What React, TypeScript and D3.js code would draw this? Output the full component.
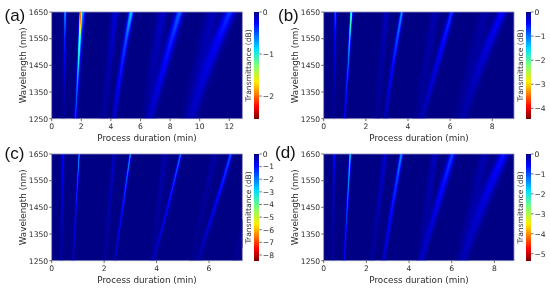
import React, { useMemo } from "react";
import * as d3 from "d3";

const W = 550, H = 289;
const wavelengthNodes = [1250, 1350, 1450, 1550, 1650];
const yTicks = [1250, 1350, 1450, 1550, 1650];

// ridge centres (min) at each wavelength node
const centresA = [
  [0.8, 0.83, 0.85, 0.87, 0.89], [1.58, 1.68, 1.78, 1.87, 1.96], [1.65, 1.75, 1.86, 1.99, 2.13],
  [3.5, 3.7, 3.9, 4.1, 4.28], [4.2, 4.45, 4.73, 5.03, 5.37], [6.4, 6.65, 6.9, 7.2, 7.5],
  [6.65, 7.12, 7.62, 8.12, 8.65], [9.2, 9.6, 10.05, 10.45, 10.9], [9.45, 10.0, 10.6, 11.3, 12.05],
];
const depthsA = [
  [0.04, 0.1, 0.22, 0.38, 0.75], [0.35, 0.45, 0.75, 1.25, 2.1], [0.05, 0.1, 0.15, 0.3, 0.55],
  [0.05, 0.07, 0.1, 0.15, 0.2], [0.15, 0.25, 0.35, 0.5, 0.85], [0.04, 0.06, 0.09, 0.12, 0.15],
  [0.12, 0.2, 0.28, 0.38, 0.55], [0.04, 0.06, 0.08, 0.1, 0.12], [0.1, 0.14, 0.2, 0.28, 0.42],
];
const widthsA = [
  [0.08, 0.08, 0.08, 0.08, 0.08], [0.08, 0.08, 0.08, 0.08, 0.08], [0.12, 0.12, 0.12, 0.12, 0.12],
  [0.22, 0.22, 0.22, 0.22, 0.22], [0.15, 0.16, 0.16, 0.16, 0.16], [0.32, 0.32, 0.32, 0.32, 0.32],
  [0.24, 0.26, 0.27, 0.27, 0.24], [0.42, 0.42, 0.42, 0.42, 0.42], [0.33, 0.36, 0.38, 0.38, 0.34],
];

const centresB = [
  [0.47, 0.49, 0.51, 0.52, 0.54], [0.98, 1.06, 1.15, 1.22, 1.3], [2.51, 2.62, 2.73, 2.85, 2.96],
  [2.91, 3.08, 3.27, 3.48, 3.7], [4.42, 4.63, 4.85, 5.07, 5.28], [4.65, 5.0, 5.36, 5.72, 6.07],
  [6.37, 6.68, 7.0, 7.32, 7.65], [6.62, 7.0, 7.43, 7.93, 8.47],
];
const depthsB = [
  [0.05, 0.12, 0.25, 0.45, 0.9], [0.4, 0.6, 0.9, 1.4, 2.3], [0.06, 0.09, 0.12, 0.17, 0.24],
  [0.22, 0.35, 0.55, 0.85, 1.2], [0.05, 0.08, 0.11, 0.14, 0.18], [0.17, 0.28, 0.4, 0.55, 0.75],
  [0.04, 0.06, 0.09, 0.11, 0.14], [0.12, 0.18, 0.28, 0.38, 0.52],
];
const widthsB = [
  [0.06, 0.06, 0.06, 0.06, 0.06], [0.055, 0.055, 0.055, 0.055, 0.055], [0.14, 0.14, 0.14, 0.14, 0.14],
  [0.08, 0.09, 0.09, 0.09, 0.08], [0.2, 0.2, 0.2, 0.2, 0.2], [0.12, 0.14, 0.14, 0.14, 0.11],
  [0.26, 0.26, 0.26, 0.26, 0.26], [0.2, 0.22, 0.24, 0.24, 0.2],
];

const centresC = [
  [0.36, 0.38, 0.39, 0.41, 0.42], [0.8, 0.86, 0.92, 0.98, 1.04], [2.03, 2.12, 2.2, 2.29, 2.38],
  [2.4, 2.55, 2.71, 2.85, 3.0], [3.83, 3.95, 4.08, 4.2, 4.32], [3.87, 4.15, 4.43, 4.68, 4.92],
  [5.35, 5.57, 5.79, 6.01, 6.23], [5.58, 5.9, 6.23, 6.55, 6.84], [7.0, 7.25, 7.5, 7.75, 8.0],
];
const depthsC = [
  [0.2, 0.3, 0.45, 0.7, 1.0], [0.5, 0.7, 1.0, 1.5, 2.3], [0.15, 0.22, 0.3, 0.42, 0.55],
  [0.5, 0.75, 1.1, 1.6, 2.3], [0.08, 0.14, 0.2, 0.27, 0.34], [0.4, 0.65, 0.95, 1.35, 1.9],
  [0.07, 0.1, 0.15, 0.2, 0.26], [0.3, 0.55, 0.85, 1.2, 1.7], [0.1, 0.12, 0.12, 0.12, 0.12],
];
const widthsC = [
  [0.05, 0.05, 0.05, 0.05, 0.05], [0.035, 0.035, 0.035, 0.035, 0.035], [0.07, 0.07, 0.07, 0.07, 0.07],
  [0.04, 0.045, 0.045, 0.045, 0.04], [0.1, 0.1, 0.1, 0.1, 0.1], [0.05, 0.055, 0.055, 0.055, 0.05],
  [0.12, 0.12, 0.12, 0.12, 0.12], [0.065, 0.075, 0.075, 0.075, 0.065], [0.12, 0.12, 0.12, 0.12, 0.12],
];

const centresD = [
  [0.42, 0.43, 0.44, 0.46, 0.47], [0.95, 1.02, 1.09, 1.16, 1.23], [2.25, 2.4, 2.56, 2.72, 2.87],
  [2.79, 3.0, 3.2, 3.42, 3.63], [4.5, 4.67, 4.85, 5.02, 5.2], [4.58, 4.93, 5.29, 5.66, 6.03],
  [6.37, 6.66, 6.96, 7.25, 7.55], [6.53, 6.95, 7.39, 7.9, 8.45],
];
const depthsD = [
  [0.12, 0.2, 0.3, 0.45, 0.8], [0.5, 0.7, 1.0, 1.35, 1.9], [0.1, 0.15, 0.22, 0.3, 0.4],
  [0.35, 0.5, 0.7, 0.95, 1.4], [0.08, 0.12, 0.17, 0.22, 0.3], [0.25, 0.35, 0.5, 0.7, 0.95],
  [0.07, 0.1, 0.14, 0.18, 0.22], [0.18, 0.28, 0.4, 0.52, 0.7],
];
const widthsD = [
  [0.05, 0.05, 0.05, 0.05, 0.05], [0.05, 0.05, 0.05, 0.05, 0.05], [0.11, 0.11, 0.11, 0.11, 0.11],
  [0.08, 0.09, 0.09, 0.09, 0.08], [0.15, 0.15, 0.15, 0.15, 0.15], [0.13, 0.15, 0.16, 0.16, 0.14],
  [0.22, 0.22, 0.22, 0.22, 0.22], [0.2, 0.24, 0.26, 0.26, 0.22],
];

const jetStops = [0, 0.11, 0.34, 0.5, 0.65, 0.89, 1];
const jetColours = ["#7f0000", "#ff0000", "#ffee00", "#7dff7a", "#00e0ff", "#0000ff", "#000085"];
const jet = d3.scaleLinear<string>().domain(jetStops).range(jetColours).clamp(true);

type Panel = {
  label: string; lx: number; ly: number; x0: number; x1: number; y0: number; y1: number;
  cx0: number; xMax: number; xTicks: number[]; vMin: number; cTicks: number[];
  centres: number[][]; depths: number[][]; widths: number[][]; tx: number;
};

const panels: Panel[] = [
  { label: "(a)", lx: 4.5, ly: 20.5, x0: 51.7, x1: 242.3, y0: 12, y1: 118.7, cx0: 254.3, xMax: 12.88, xTicks: [0, 2, 4, 6, 8, 10, 12], vMin: -2.54, cTicks: [0, -1, -2], centres: centresA, depths: depthsA, widths: widthsA, tx: 147 },
  { label: "(b)", lx: 278, ly: 20.5, x0: 323.7, x1: 514, y0: 12, y1: 118.7, cx0: 526, xMax: 9.03, xTicks: [0, 2, 4, 6, 8], vMin: -4.43, cTicks: [0, -1, -2, -3, -4], centres: centresB, depths: depthsB, widths: widthsB, tx: 419 },
  { label: "(c)", lx: 4.5, ly: 158.5, x0: 51.7, x1: 242.3, y0: 154, y1: 260.7, cx0: 254.3, xMax: 7.27, xTicks: [0, 2, 4, 6], vMin: -8.45, cTicks: [0, -1, -2, -3, -4, -5, -6, -7, -8], centres: centresC, depths: depthsC, widths: widthsC, tx: 147 },
  { label: "(d)", lx: 275, ly: 157.5, x0: 323.7, x1: 514, y0: 154, y1: 260.7, cx0: 526, xMax: 8.92, xTicks: [0, 2, 4, 6, 8], vMin: -5.35, cTicks: [0, -1, -2, -3, -4, -5], centres: centresD, depths: depthsD, widths: widthsD, tx: 419 },
];

const FONT = "'DejaVu Sans', sans-serif";
const minus = (v: number) => (v < 0 ? "\u2212" + Math.abs(v) : String(v));

function PanelView({ p }: { p: Panel }) {
  const x = d3.scaleLinear().domain([0, p.xMax]).range([p.x0, p.x1]);
  const y = d3.scaleLinear().domain([1250, 1650]).range([p.y1, p.y0]);
  const c = d3.scaleLinear().domain([p.vMin, 0]).range([0, 1]);
  const cy = d3.scaleLinear().domain([p.vMin, 0]).range([p.y1, p.y0]);

  const cells = useMemo(() => {
    const dt = p.xMax / 190, dw = 400 / 107;
    const ridges = p.centres.map((cen, i) => ({
      cen: d3.scaleLinear().domain(wavelengthNodes).range(cen),
      dep: d3.scaleLinear().domain(wavelengthNodes).range(p.depths[i]),
      wid: d3.scaleLinear().domain(wavelengthNodes).range(p.widths[i]),
    }));
    const out: { t: number; w: number; v: number }[] = [];
    for (const w of d3.range(1250, 1650, dw)) {
      const rs = ridges.map((r) => ({ c: r.cen(w + dw / 2), d: r.dep(w + dw / 2), s: r.wid(w + dw / 2) }));
      for (const t of d3.range(0, p.xMax, dt)) {
        let v = 0;
        for (const r of rs) {
          const u = (t + dt / 2 - r.c) / r.s;
          if (Math.abs(u) < 4) v -= r.d * Math.exp(-u * u);
        }
        if (v < -0.004 * Math.abs(p.vMin)) out.push({ t, w, v });
      }
    }
    return { out, dt, dw };
  }, [p]);

  const barSteps = d3.range(p.vMin, 0, Math.abs(p.vMin) / 107);
  const axis = "#333";
  const frame = "#8b8bb5";
  const tickFs = 7.6;

  return (
    <g fontFamily={FONT} fill="#2b2b2b">
      <rect x={p.x0} y={p.y0} width={p.x1 - p.x0} height={p.y1 - p.y0} fill={jet(c(0))} />
      <g shapeRendering="crispEdges">
        {cells.out.map((d, i) => (
          <rect key={i} x={x(d.t)} y={y(d.w + cells.dw)} width={x(cells.dt) - x(0) + 0.5} height={y(1250) - y(1250 + cells.dw) + 0.5} fill={jet(c(d.v))} />
        ))}
      </g>
      <rect x={p.x0} y={p.y0} width={p.x1 - p.x0} height={p.y1 - p.y0} fill="none" stroke={frame} strokeWidth={0.8} />
      {p.xTicks.map((t) => (
        <g key={t}>
          <line x1={x(t)} x2={x(t)} y1={p.y1} y2={p.y1 + 2.5} stroke={axis} strokeWidth={0.7} />
          <text x={x(t)} y={p.y1 + 10.5} fontSize={tickFs} textAnchor="middle">{t}</text>
        </g>
      ))}
      {yTicks.map((t) => (
        <g key={t}>
          <line x1={p.x0 - 2.5} x2={p.x0} y1={y(t)} y2={y(t)} stroke={axis} strokeWidth={0.7} />
          <text x={p.x0 - 3.5} y={y(t) + 2.8} fontSize={tickFs} textAnchor="end">{t}</text>
        </g>
      ))}
      <text x={p.tx} y={p.y1 + 22} fontSize={8.8} textAnchor="middle">Process duration (min)</text>
      <text transform={`translate(${p.x0 - 26},${(p.y0 + p.y1) / 2}) rotate(-90)`} fontSize={8.8} textAnchor="middle">Wavelength (nm)</text>

      <g shapeRendering="crispEdges">
        {barSteps.map((v, i) => (
          <rect key={i} x={p.cx0} y={cy(v) - 1.3} width={5} height={1.5} fill={jet(c(v))} />
        ))}
      </g>
      {p.cTicks.map((t) => (
        <g key={t}>
          <line x1={p.cx0 + 5} x2={p.cx0 + 7.5} y1={cy(t)} y2={cy(t)} stroke={axis} strokeWidth={0.7} />
          <text x={p.cx0 + 8.5} y={cy(t) + 2.8} fontSize={tickFs}>{minus(t)}</text>
        </g>
      ))}
      <text x={p.lx} y={p.ly} fontSize={17} fontFamily="'Liberation Sans', Arial, sans-serif" fill="#111">{p.label}</text>
      <text transform={`translate(${p.x1 + 8.5},${(p.y0 + p.y1) / 2}) rotate(-90)`} fontSize={7.6} textAnchor="middle">Transmittance (dB)</text>
    </g>
  );
}

export default function App() {
  return (
    <svg width={W} height={H} viewBox={`0 0 ${W} ${H}`} style={{ position: "fixed", left: 0, top: 0, background: "#fff", filter: "blur(0.5px)" }}>
      {panels.map((p) => <PanelView key={p.label} p={p} />)}
    </svg>
  );
}
